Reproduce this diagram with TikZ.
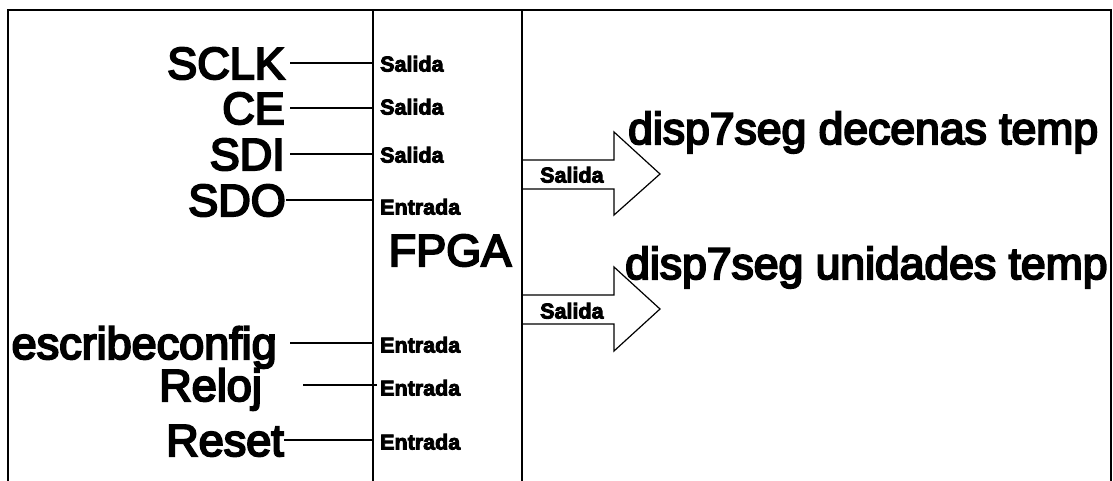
\documentclass[tikz,border=0pt]{standalone}
\usepackage{fontspec}
\setmainfont{Liberation Sans}
\newfontfamily\bigf[FakeBold=4.5]{Liberation Sans}
\newfontfamily\smallf[FakeBold=4]{Liberation Sans Bold}
\begin{document}
\begin{tikzpicture}[x=1pt,y=-1pt,
  line/.style={line width=1.2pt},
  frame/.style={line width=1.8pt},
  sig/.style={font=\bigf\fontsize{45}{45}\selectfont, anchor=east, inner sep=0pt, text height=32pt, text depth=0pt},
  big/.style={font=\bigf\fontsize{44.5}{44.5}\selectfont, anchor=west, inner sep=0pt, text height=32pt, text depth=0pt},
  lab/.style={font=\smallf\fontsize{21.5}{21.5}\selectfont, anchor=west, inner xsep=7pt, inner ysep=0pt, text height=15pt, text depth=0pt},
  blockarrow/.style={line width=1.2pt}]
\useasboundingbox (0,0) rectangle (1113,481);
% frame
\draw[frame] (8,481) -- (8,10) -- (1111,10) -- (1111,481);
\coordinate (v1t) at (373,10);
\coordinate (v1b) at (373,481);
\coordinate (v2t) at (522,10);
\coordinate (v2b) at (522,481);
\draw[line] (v1t) -- (v1b);
\draw[line] (v2t) -- (v2b);
% signal names
\node[sig] (sclk) at (285,63) {SCLK};
\node[sig] (ce) at (285,108) {CE};
\node[sig] (sdi) at (285,154) {SDI};
\node[sig] (sdo) at (286,200) {SDO};
\node[sig] (esc) at (277,343) {escribeconfig};
\node[sig] (reloj) at (262,385) {Reloj};
\node[sig] (reset) at (284,440) {Reset};
% labels in FPGA column
\node[lab] (l1) at (373,64) {Salida};
\node[lab] (l2) at (373,107) {Salida};
\node[lab] (l3) at (373,155) {Salida};
\node[lab] (l4) at (373,207) {Entrada};
\node[lab] (l5) at (373,345) {Entrada};
\node[lab] (l6) at (373,388) {Entrada};
\node[lab] (l7) at (373,442) {Entrada};
\node[sig, anchor=center] (fpga) at (450,250) {FPGA};
% connectors
\draw[line] ([xshift=5pt]sclk.east) -- (sclk.east -| l1.west);
\draw[line] ([xshift=5pt]ce.east) -- (ce.east -| l2.west);
\draw[line] ([xshift=5pt]sdi.east) -- (sdi.east -| l3.west);
\draw[line] (sdo.east) -- (sdo.east -| l4.west);
\draw[line] ([xshift=13pt]esc.east) -- (esc.east -| l5.west);
\draw[line] ([xshift=41pt]reloj.east) -- ([xshift=4pt]reloj.east -| l6.west);
\draw[line] (reset.east) -- (reset.east -| l7.west);
% block arrows
\draw[blockarrow] (522,160) -- (614,160) -- (614,132) -- (660,174) -- (614,215) -- (614,189) -- (522,189);
\node[lab, inner xsep=0pt] (a1) at (540,175) {Salida};
\node[big] (d1) at (628,128) {disp7seg decenas temp};
\draw[blockarrow] (522,295) -- (614,295) -- (614,267) -- (660,309) -- (614,351) -- (614,324) -- (522,324);
\node[lab, inner xsep=0pt] (a2) at (540,311) {Salida};
\node[big] (d2) at (625,263) {disp7seg unidades temp};
\end{tikzpicture}
\end{document}
